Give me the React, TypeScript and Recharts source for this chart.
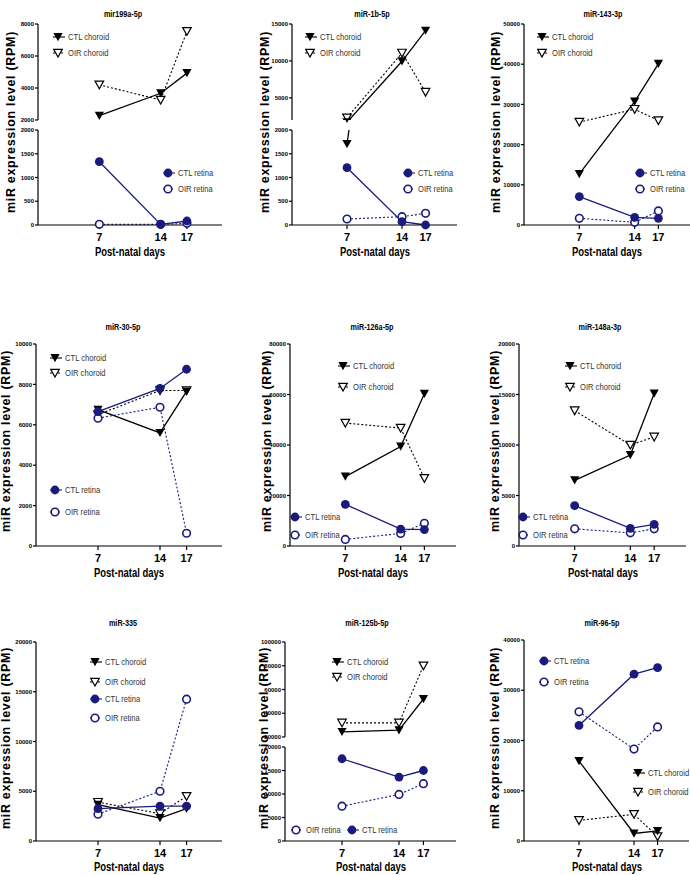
import { LineChart, Line, XAxis, YAxis } from 'recharts';

const NAVY = '#1b1b7d';
const DAYS = [7, 14, 17];

// series order in every panel: CTL choroid, OIR choroid, CTL retina, OIR retina
const SERIES_KEYS = ['ctlC', 'oirC', 'ctlR', 'oirR'];
const SERIES_LABELS = ['CTL choroid', 'OIR choroid', 'CTL retina', 'OIR retina'];

const TITLES = [
  'mir199a-5p', 'miR-1b-5p', 'miR-143-3p',
  'miR-30-5p', 'miR-126a-5p', 'miR-148a-3p',
  'miR-335', 'miR-125b-5p', 'miR-96-5p',
];

const MIR199A_5P = [[2270, 3670, 4930], [4200, 3250, 7540], [1333, 14, 84], [14, 14, 35]];
const MIR1B_5P = [[1705, 9950, 14100], [2300, 11080, 5770], [1207, 70, 0], [126, 175, 245]];
const MIR143_3P = [[12700, 30700, 40100], [25600, 28800, 26000], [7060, 1910, 1660], [1660, 660, 3490]];
const MIR30_5P = [[6750, 5600, 7650], [6500, 7700, 7700], [6650, 7800, 8750], [6330, 6870, 630]];
const MIR126A_5P = [[27500, 39400, 60300], [48700, 46700, 26800], [16500, 6700, 6500], [2600, 5000, 9000]];
const MIR148A_3P = [[6500, 9000, 15100], [13400, 10000, 10800], [4000, 1750, 2150], [1700, 1300, 1700]];
const MIR335 = [[3650, 2300, 3250], [3900, 2750, 4500], [3250, 3500, 3500], [2700, 5000, 14250]];
const MIR125B_5P = [[24300, 25700, 52000], [31900, 31900, 80000], [17500, 13600, 15000], [7400, 9900, 12200]];
const MIR96_5P = [[15900, 1500, 2000], [4100, 5300, 900], [23000, 33200, 34500], [25700, 18300, 22700]];

const X_TICKS = [7, 14, 17];
const T199_TOP = [2000, 4000, 6000, 8000];
const T_2000 = [0, 500, 1000, 1500, 2000];
const T1B_TOP = [5000, 10000, 15000];
const T_50K = [0, 10000, 20000, 30000, 40000, 50000];
const T_10K = [0, 2000, 4000, 6000, 8000, 10000];
const T_80K = [0, 20000, 40000, 60000, 80000];
const T_20K = [0, 5000, 10000, 15000, 20000];
const T125_TOP = [20000, 40000, 60000, 80000, 100000];
const T_40K = [0, 10000, 20000, 30000, 40000];

const YW = 30;
const MT = 5;
const MR = 4;
const MB = 5;
const XH = 26;

function rows(vals: number[][]) {
  return DAYS.map((d, i) => ({ day: d, ctlC: vals[0][i], oirC: vals[1][i], ctlR: vals[2][i], oirR: vals[3][i] }));
}

const STYLE: Record<string, { color: string; dash?: string; w: number }> = {
  ctlC: { color: '#000', w: 1.3 },
  oirC: { color: '#000', dash: '2 2', w: 1.1 },
  ctlR: { color: NAVY, w: 1.3 },
  oirR: { color: NAVY, dash: '2 2', w: 1.1 },
};

function Marker({ cx, cy, kind }: { cx: number; cy: number; kind: string }) {
  if (kind === 'ctlC')
    return <path d={`M${cx - 4.6},${cy - 4} L${cx + 4.6},${cy - 4} L${cx},${cy + 4.2} Z`} fill="#000" />;
  if (kind === 'oirC')
    return (
      <path d={`M${cx - 4.3},${cy - 3.7} L${cx + 4.3},${cy - 3.7} L${cx},${cy + 4} Z`} fill="#fff" stroke="#000" strokeWidth={1.2} />
    );
  if (kind === 'ctlR') return <circle cx={cx} cy={cy} r={4.4} fill={NAVY} />;
  return <circle cx={cx} cy={cy} r={3.8} fill="#fff" stroke={NAVY} strokeWidth={1.6} />;
}

const dotFor = (k: string) => (p: any) => {
  if (p.cx == null || p.cy == null) return <g key={`${k}-${p.index}`} />;
  return <Marker key={`${k}-${p.index}`} cx={p.cx} cy={p.cy} kind={k} />;
};

type Seg = { yTop: number; yBot: number; domain: [number, number]; ticks: number[]; keys: string[]; clip?: string[]; showX: boolean };

function Segment({ data, x0, x1, seg }: { data: any[]; x0: number; x1: number; seg: Seg }) {
  const W = YW + (x1 - x0) + MR;
  const H = MT + (seg.yBot - seg.yTop) + (seg.showX ? XH : MB);
  const clip = seg.clip ?? [];
  const order = ['oirC', 'oirR', 'ctlC', 'ctlR'].filter((k) => seg.keys.includes(k));
  return (
    <div style={{ position: 'absolute', left: x0 - YW, top: seg.yTop - MT }}>
      <LineChart width={W} height={H} data={data} margin={{ top: MT, right: MR, left: 0, bottom: seg.showX ? 0 : MB }}>
        <XAxis
          type="number"
          dataKey="day"
          domain={[0, 21]}
          ticks={X_TICKS}
          hide={!seg.showX}
          height={XH}
          stroke="#000"
          strokeWidth={1.2}
          tickSize={4}
          tickMargin={4}
          interval={0}
          tick={{ fontSize: 11, fontWeight: 700, fill: '#000' }}
        />
        <YAxis
          yAxisId="m"
          type="number"
          domain={seg.domain}
          ticks={seg.ticks}
          interval={0}
          width={YW}
          stroke="#000"
          strokeWidth={1.2}
          tickSize={3}
          tickMargin={1}
          tick={{ fontSize: 6, fontWeight: 700, fill: '#000' }}
        />
        {clip.length > 0 && (
          <YAxis yAxisId="c" orientation="right" type="number" hide domain={seg.domain} allowDataOverflow />
        )}
        {order.map((k) => (
          <Line
            key={k}
            yAxisId={clip.includes(k) ? 'c' : 'm'}
            dataKey={k}
            type="linear"
            stroke={STYLE[k].color}
            strokeWidth={STYLE[k].w}
            strokeDasharray={STYLE[k].dash}
            dot={dotFor(k)}
            activeDot={false}
            isAnimationActive={false}
          />
        ))}
      </LineChart>
    </div>
  );
}

function Txt({ x, y, children, size, bold, sx = 1, left = false, rotate = false, color = '#000', ls = 0 }: any) {
  const transform = rotate
    ? 'translate(-50%, -50%) rotate(-90deg)'
    : left
      ? `translate(0, -50%) scaleX(${sx})`
      : `translate(-50%, -50%) scaleX(${sx})`;
  return (
    <div
      style={{
        position: 'absolute',
        left: x,
        top: y,
        transform,
        transformOrigin: left ? 'left center' : 'center center',
        fontSize: size,
        fontWeight: bold ? 700 : 400,
        color,
        whiteSpace: 'nowrap',
        lineHeight: 1,
        letterSpacing: ls,
      }}
    >
      {children}
    </div>
  );
}

function LegendItem({ x, y, k }: { x: number; y: number; k: string }) {
  const s = STYLE[k];
  return (
    <>
      <svg style={{ position: 'absolute', left: x - 6, top: y - 6 }} width={14} height={12}>
        <line x1={1} x2={13} y1={6} y2={6} stroke={s.color} strokeWidth={1.1} strokeDasharray={s.dash} />
        <Marker cx={6} cy={6} kind={k} />
      </svg>
      <Txt x={x + 10} y={y} size={9.5} sx={0.8} left color="#333">
        {SERIES_LABELS[SERIES_KEYS.indexOf(k)]}
      </Txt>
    </>
  );
}

type Panel = {
  vals: number[][];
  x0: number;
  x1: number;
  segs: Seg[];
  title: [number, number];
  yLabel: [number, number];
  xLabelY: number;
  legend: [number, number, string][];
};

const PANELS: Panel[] = [
  {
    vals: MIR199A_5P, x0: 38, x1: 222, title: [123, 14], yLabel: [11, 122], xLabelY: 252,
    segs: [
      { yTop: 24, yBot: 120, domain: [2000, 8000], ticks: T199_TOP, keys: ['ctlC', 'oirC'], showX: false },
      { yTop: 130, yBot: 225, domain: [0, 2000], ticks: T_2000, keys: ['ctlR', 'oirR'], showX: true },
    ],
    legend: [[58, 37, 'ctlC'], [58, 53, 'oirC'], [168, 173, 'ctlR'], [168, 189, 'oirR']],
  },
  {
    vals: MIR1B_5P, x0: 292, x1: 457, title: [372, 14], yLabel: [265, 122], xLabelY: 252,
    segs: [
      { yTop: 24, yBot: 120, domain: [2000, 15000], ticks: T1B_TOP, keys: ['ctlC', 'oirC'], clip: ['ctlC'], showX: false },
      { yTop: 130, yBot: 225, domain: [0, 2000], ticks: T_2000, keys: ['ctlC', 'ctlR', 'oirR'], clip: ['ctlC'], showX: true },
    ],
    legend: [[310, 37, 'ctlC'], [310, 53, 'oirC'], [408, 173, 'ctlR'], [408, 189, 'oirR']],
  },
  {
    vals: MIR143_3P, x0: 524, x1: 690, title: [603, 14], yLabel: [496, 122], xLabelY: 252,
    segs: [{ yTop: 24, yBot: 225, domain: [0, 50000], ticks: T_50K, keys: SERIES_KEYS, showX: true }],
    legend: [[542, 37, 'ctlC'], [542, 53, 'oirC'], [640, 173, 'ctlR'], [640, 189, 'oirR']],
  },
  {
    vals: MIR30_5P, x0: 36, x1: 222, title: [123, 327], yLabel: [6, 441], xLabelY: 573,
    segs: [{ yTop: 344, yBot: 546, domain: [0, 10000], ticks: T_10K, keys: SERIES_KEYS, showX: true }],
    legend: [[55, 358, 'ctlC'], [55, 373, 'oirC'], [55, 490, 'ctlR'], [55, 512, 'oirR']],
  },
  {
    vals: MIR126A_5P, x0: 290, x1: 456, title: [372, 327], yLabel: [267, 441], xLabelY: 573,
    segs: [{ yTop: 344, yBot: 546, domain: [0, 80000], ticks: T_80K, keys: SERIES_KEYS, showX: true }],
    legend: [[343, 366, 'ctlC'], [343, 387, 'oirC'], [295, 517, 'ctlR'], [295, 535, 'oirR']],
  },
  {
    vals: MIR148A_3P, x0: 519, x1: 686, title: [600, 327], yLabel: [495, 441], xLabelY: 573,
    segs: [{ yTop: 344, yBot: 546, domain: [0, 20000], ticks: T_20K, keys: SERIES_KEYS, showX: true }],
    legend: [[570, 366, 'ctlC'], [570, 387, 'oirC'], [523, 517, 'ctlR'], [523, 535, 'oirR']],
  },
  {
    vals: MIR335, x0: 36, x1: 222, title: [123, 623], yLabel: [6, 738], xLabelY: 867,
    segs: [{ yTop: 642, yBot: 841, domain: [0, 20000], ticks: T_20K, keys: SERIES_KEYS, showX: true }],
    legend: [[95, 662, 'ctlC'], [95, 682, 'oirC'], [95, 699, 'ctlR'], [95, 718, 'oirR']],
  },
  {
    vals: MIR125B_5P, x0: 285, x1: 456, title: [367, 623], yLabel: [264, 738], xLabelY: 867,
    segs: [
      { yTop: 642, yBot: 737, domain: [20000, 100000], ticks: T125_TOP, keys: ['ctlC', 'oirC'], showX: false },
      { yTop: 747, yBot: 841, domain: [0, 20000], ticks: T_20K, keys: ['ctlR', 'oirR'], showX: true },
    ],
    legend: [[337, 662, 'ctlC'], [337, 677, 'oirC'], [352, 830, 'ctlR'], [296, 830, 'oirR']],
  },
  {
    vals: MIR96_5P, x0: 524, x1: 689, title: [602, 623], yLabel: [495, 738], xLabelY: 867,
    segs: [{ yTop: 640, yBot: 841, domain: [0, 40000], ticks: T_40K, keys: SERIES_KEYS, showX: true }],
    legend: [[544, 661, 'ctlR'], [544, 682, 'oirR'], [638, 773, 'ctlC'], [638, 792, 'oirC']],
  },
];

export default function App() {
  return (
    <div
      style={{
        position: 'absolute',
        left: 0,
        top: 0,
        width: 690,
        height: 875,
        overflow: 'hidden',
        background: '#fff',
        fontFamily: '"Liberation Sans", Arial, sans-serif',
      }}
    >
      {PANELS.map((p, i) => {
        const data = rows(p.vals);
        return (
          <div key={i}>
            {p.segs.map((s, j) => (
              <Segment key={j} data={data} x0={p.x0} x1={p.x1} seg={s} />
            ))}
            <Txt x={p.title[0]} y={p.title[1]} size={9.5} bold sx={0.76}>
              {TITLES[i]}
            </Txt>
            <Txt x={p.yLabel[0]} y={p.yLabel[1]} size={12.5} bold rotate ls={0.7}>
              miR expression level (RPM)
            </Txt>
            <Txt x={(p.x0 + p.x1) / 2} y={p.xLabelY} size={12.5} bold sx={0.76}>
              Post-natal days
            </Txt>
            {p.legend.map(([x, y, k]) => (
              <LegendItem key={k} x={x} y={y} k={k} />
            ))}
          </div>
        );
      })}
    </div>
  );
}
